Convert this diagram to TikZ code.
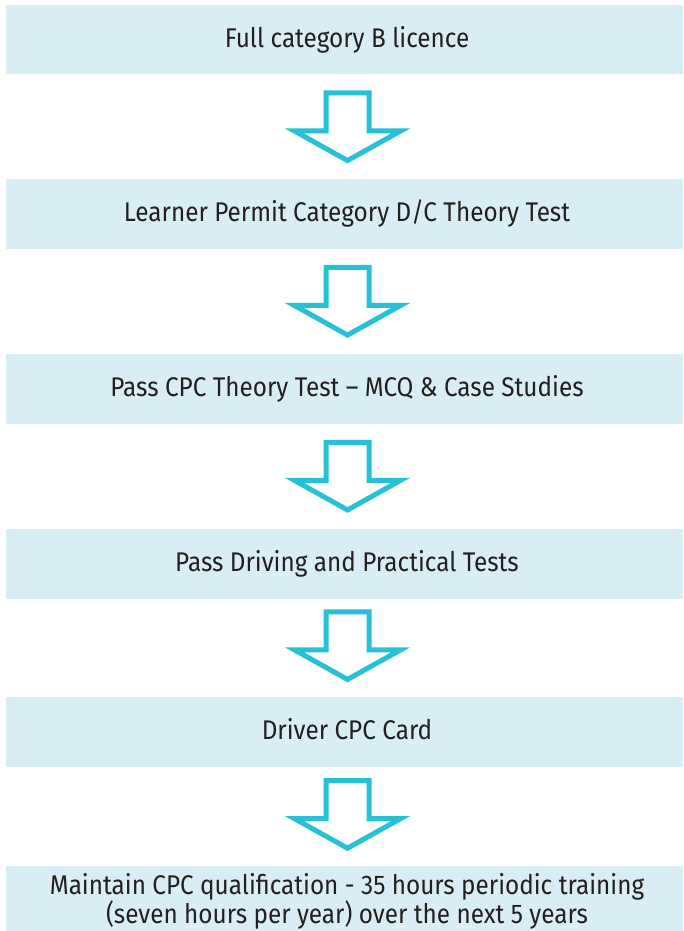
\documentclass[tikz,border=0pt]{standalone}
\usepackage{fontspec}
\setmainfont{Fira Sans}[FakeStretch=0.9]
\usetikzlibrary{calc}
\definecolor{boxfill}{HTML}{D8EEF4}
\definecolor{arrowc}{HTML}{26C1D7}
\definecolor{txtc}{HTML}{231F20}
\tikzset{
  stepbox/.style={rectangle, fill=boxfill, draw=none, minimum width=677pt,
    minimum height=69.5pt, inner sep=0pt, text=txtc,
    font=\fontsize{27}{28}\selectfont, text height=20pt, text depth=4.8pt,
    execute at begin node=\hspace*{5pt}},
  blockarrow/.style={draw=arrowc, line width=5pt, fill=white, line join=miter},
}
\newcommand{\blockarrow}[1]{%
  \draw[blockarrow] ($(#1)+(-21.5,-34)$) -- ($(#1)+(21.5,-34)$) -- ($(#1)+(21.5,4)$)
    -- ($(#1)+(53.25,4)$) -- ($(#1)+(0,33.7)$) -- ($(#1)+(-53.25,4)$)
    -- ($(#1)+(-21.5,4)$) -- cycle;}
\begin{document}
\begin{tikzpicture}[x=1pt,y=-1pt]
\useasboundingbox (0,0) rectangle (683,931);
\node[stepbox] (b1) at (344.5,39.75) {Full category B licence};
\node[stepbox] (b2) at (344.5,214) {Learner Permit Category D/C Theory Test};
\node[stepbox] (b3) at (344.5,388.75) {Pass CPC Theory Test – MCQ \& Case Studies};
\node[stepbox] (b4) at (344.5,563.75) {Pass Driving and Practical Tests};
\node[stepbox, minimum height=70pt] (b5) at (344.5,732) {Driver CPC Card};
\node[stepbox, minimum height=65pt, text height=, text depth=] (b6) at (344.5,898.5) {};
\node[align=center, inner sep=0pt, text=txtc, font=\fontsize{27}{28}\selectfont] (t6) at (347,901.5)
  {Maintain CPC qualification - 35 hours periodic training\\(seven hours per year) over the next 5 years};
\coordinate (m1) at ($(b1.south)!0.5!(b2.north)+(3,0)$);
\coordinate (m2) at ($(b2.south)!0.5!(b3.north)+(3,0)$);
\coordinate (m3) at ($(b3.south)!0.5!(b4.north)+(3,0)$);
\coordinate (m4) at ($(b4.south)!0.5!(b5.north)+(3,-2)$);
\coordinate (m5) at ($(b5.south)!0.5!(b6.north)+(3,-2)$);
\blockarrow{m1}
\blockarrow{m2}
\blockarrow{m3}
\blockarrow{m4}
\blockarrow{m5}
\end{tikzpicture}
\end{document}
